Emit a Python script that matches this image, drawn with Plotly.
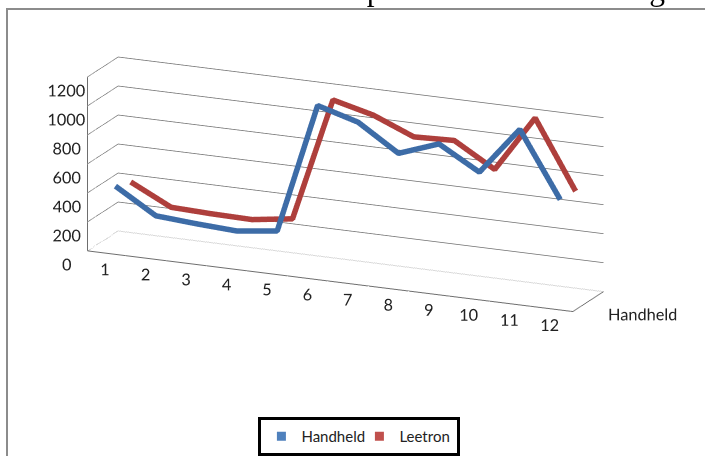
import plotly.graph_objects as go

categories = [1, 2, 3, 4, 5, 6, 7, 8, 9, 10, 11, 12]
series_names = ["Handheld", "Leetron"]
handheld = [430, 260, 240, 225, 260, 1160, 1080, 900, 1000, 840, 1170, 720]
leetron = [390, 250, 240, 235, 275, 1130, 1060, 945, 955, 790, 1180, 710]
z_ticks = [0, 200, 400, 600, 800, 1000, 1200]
label_shift = 0.45  # category labels sit slightly to the right of each category, as in the original

colors = {"Handheld": "#3D6CA7", "Leetron": "#AE3F3C"}
legend_colors = {"Handheld": "#4F81BD", "Leetron": "#C0504D"}
series_values = {"Handheld": handheld, "Leetron": leetron}

fig = go.Figure()
for i, name in enumerate(series_names):
    fig.add_trace(go.Scatter3d(
        x=categories, y=[i] * len(categories), z=series_values[name],
        mode="lines", line=dict(color=colors[name], width=11),
        showlegend=False, hoverinfo="skip", name=name))
for name in series_names:
    fig.add_trace(go.Scatter(
        x=[None], y=[None], mode="markers", name=name,
        marker=dict(symbol="square", size=9, color=legend_colors[name])))

axis_common = dict(showbackground=False, showspikes=False, title=dict(text=""),
                   linecolor="#6E6E6E", linewidth=2, gridcolor="#6E6E6E", gridwidth=1.5,
                   tickangle=0, ticks="outside", tickcolor="rgba(0,0,0,0)",
                   tickfont=dict(family="Lato", size=14, color="#222"))
fig.update_layout(
    width=705, height=456, margin=dict(l=0, r=0, t=0, b=0),
    paper_bgcolor="white", plot_bgcolor="white",
    font=dict(family="Lato", size=15, color="#222"),
    xaxis=dict(visible=False), yaxis=dict(visible=False),
    scene=dict(
        domain=dict(x=[0.0123, 0.9663], y=[0.1875, 0.9825]),
        bgcolor="rgba(0,0,0,0)",
        aspectmode="manual", aspectratio=dict(x=2.92, y=0.42, z=1.0),
        xaxis=dict(axis_common, range=[0.5, 12.5],
                   tickvals=[c + label_shift for c in categories],
                   ticktext=[str(c) for c in categories], showgrid=False, ticklen=50),
        yaxis=dict(axis_common, range=[-0.5, 1.5], tickvals=[0], ticktext=["Handheld"],
                   showgrid=False, ticklen=34),
        zaxis=dict(axis_common, range=[0, 1200], tickvals=z_ticks, showgrid=True,
                   ticklen=44),
        camera=dict(projection=dict(type="orthographic"),
                    eye=dict(x=0.967, y=-2.203, z=0.685), up=dict(x=0, y=0, z=1),
                    center=dict(x=0, y=0, z=-0.03)),
    ),
    legend=dict(orientation="h", x=0.5098, xanchor="center", y=1 - 417 / 456, yanchor="top",
                entrywidth=53, entrywidthmode="pixels",
                bordercolor="black", borderwidth=3, font=dict(family="Lato", size=15, color="#222"),
                bgcolor="white"),
    shapes=[dict(type="rect", xref="paper", yref="paper", x0=7 / 705, x1=1.05,
                 y0=-0.05, y1=1 - 9 / 456, line=dict(color="#8C8C8C", width=2))],
    annotations=[dict(text="indicates that the device is repeatable with an average s",
                      xref="paper", yref="paper", x=0, xanchor="left", y=1 - 9 / 456,
                      yanchor="bottom", showarrow=False,
                      font=dict(family="Liberation Serif", size=31.5, color="black"))],
)
fig.write_html("out.html", config={"displayModeBar": False},
               post_script="document.body.style.margin='0px';")
